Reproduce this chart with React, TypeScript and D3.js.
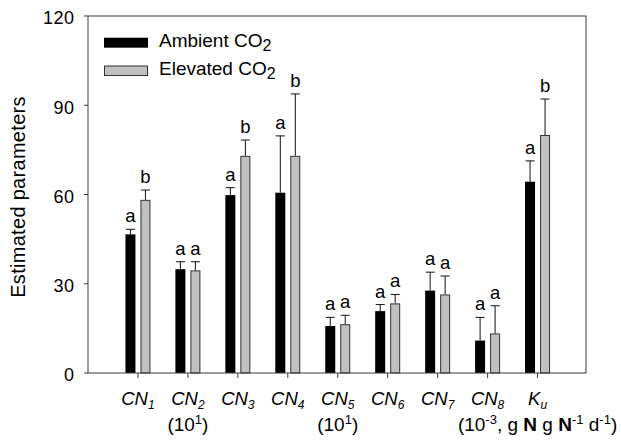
import React from "react";
import * as d3 from "d3";

// values
const categories = ["CN1", "CN2", "CN3", "CN4", "CN5", "CN6", "CN7", "CN8", "Ku"];
const ambient = [46.6, 34.9, 59.8, 60.6, 15.8, 20.8, 27.7, 10.9, 64.3];
const ambientErr = [1.7, 2.5, 2.5, 19.1, 2.9, 2.2, 6.2, 7.8, 7.0];
const elevated = [58.2, 34.5, 73.0, 73.0, 16.4, 23.4, 26.4, 13.3, 80.0];
const elevatedErr = [3.3, 2.9, 5.3, 20.8, 3.0, 3.0, 6.2, 9.3, 12.1];
const ambientLetters = ["a", "a", "a", "a", "a", "a", "a", "a", "a"];
const elevatedLetters = ["b", "a", "b", "b", "a", "a", "a", "a", "b"];
const yTicks = [0, 30, 60, 90, 120];

const FONT = "Arial, 'Liberation Sans', sans-serif";

type Seg = { t: string; sup?: boolean; bold?: boolean };
const tenScale: Seg[] = [{ t: "(10" }, { t: "1", sup: true }, { t: ")" }];
const kuUnits: Seg[] = [
  { t: "(10" }, { t: "-3", sup: true }, { t: ", g " }, { t: "N", bold: true },
  { t: " g " }, { t: "N", bold: true }, { t: "-1", sup: true }, { t: " d" },
  { t: "-1", sup: true }, { t: ")" },
];
const secondLines: (Seg[] | null)[] = [null, tenScale, null, null, tenScale, null, null, null, kuUnits];

export default function App() {
  const width = 621;
  const height = 444;
  const left = 88, right = 586, top = 16, bottom = 373;

  const x = d3.scaleLinear().domain([0, 9.97]).range([left, right]);
  const y = d3.scaleLinear().domain([0, 120]).range([bottom, top]);

  const barW = 10;
  const capW = 9;
  const frame = "#3a3a3a";

  const renderSegs = (segs: Seg[]) => {
    const out: React.ReactNode[] = [];
    let raised = false;
    segs.forEach((s, k) => {
      let dy = 0;
      if (s.sup && !raised) { dy = -7; raised = true; }
      else if (!s.sup && raised) { dy = 7; raised = false; }
      out.push(
        <tspan key={k} dy={dy} fontSize={s.sup ? 13 : 19} fontWeight={s.bold ? "bold" : "normal"}>
          {s.t}
        </tspan>
      );
    });
    return out;
  };

  return (
    <svg width={width} height={height} style={{ position: "absolute", left: 0, top: 0, background: "#fff" }} fontFamily={FONT}>
      {/* bars */}
      {categories.map((c, i) => {
        const cx = x(i + 1);
        const bx = cx - 12.5;
        const gx = cx + 2.5;
        const aTop = y(ambient[i] + ambientErr[i]);
        const eTop = y(elevated[i] + elevatedErr[i]);
        return (
          <g key={c}>
            <line x1={bx + barW / 2} x2={bx + barW / 2} y1={y(ambient[i])} y2={aTop} stroke="#111" strokeWidth={1} />
            <line x1={bx + barW / 2 - capW / 2} x2={bx + barW / 2 + capW / 2} y1={aTop} y2={aTop} stroke="#111" strokeWidth={1} />
            <line x1={gx + barW / 2} x2={gx + barW / 2} y1={y(elevated[i])} y2={eTop} stroke="#111" strokeWidth={1} />
            <line x1={gx + barW / 2 - capW / 2} x2={gx + barW / 2 + capW / 2} y1={eTop} y2={eTop} stroke="#111" strokeWidth={1} />
            <rect x={bx} y={y(ambient[i])} width={barW} height={bottom - y(ambient[i])} fill="#000" />
            <rect x={gx + 0.5} y={y(elevated[i]) + 0.5} width={barW - 1} height={bottom - y(elevated[i]) - 0.5} fill="#c0c0c0" stroke="#333" strokeWidth={1} />
            <text x={bx + barW / 2} y={aTop - 7} textAnchor="middle" fontSize={18.5}>{ambientLetters[i]}</text>
            <text x={gx + barW / 2} y={eTop - 7} textAnchor="middle" fontSize={18.5}>{elevatedLetters[i]}</text>
          </g>
        );
      })}

      {/* frame */}
      <rect x={left} y={top} width={right - left} height={bottom - top} fill="none" stroke={frame} strokeWidth={1} />

      {/* y axis */}
      {yTicks.map((t) => (
        <g key={t}>
          <line x1={left - 4} x2={left} y1={y(t)} y2={y(t)} stroke={frame} />
          <text x={left - 13.5} y={y(t)} dy="0.46em" textAnchor="end" fontSize={18} letterSpacing={0.5}>{t}</text>
        </g>
      ))}
      <text transform={`translate(25, 197) rotate(-90)`} textAnchor="middle" fontSize={20} letterSpacing={0.3}>
        Estimated parameters
      </text>

      {/* x axis */}
      {categories.map((c, i) => {
        const cx = x(i + 1);
        const main = c.startsWith("CN") ? "CN" : "K";
        const sub = c.startsWith("CN") ? c.slice(2) : "u";
        const second = secondLines[i];
        return (
          <g key={c}>
            <line x1={cx} x2={cx} y1={bottom} y2={bottom + 5} stroke={frame} />
            <text x={cx} y={405} textAnchor="middle" fontStyle="italic" fontSize={18.5}>
              {main}
              <tspan fontSize={12} dy={4}>{sub}</tspan>
            </text>
            {second && (
              <text x={cx} y={431} textAnchor="middle" fontSize={19}>
                {renderSegs(second)}
              </text>
            )}
          </g>
        );
      })}

      {/* legend */}
      <rect x={104} y={37.7} width={44} height={10} fill="#000" />
      <text x={159} y={47} fontSize={19}>
        Ambient CO<tspan fontSize={16} dy={4}>2</tspan>
      </text>
      <rect x={104.5} y={66} width={43} height={9.5} fill="#c0c0c0" stroke="#333" />
      <text x={159} y={75} fontSize={19}>
        Elevated CO<tspan fontSize={16} dy={4}>2</tspan>
      </text>
    </svg>
  );
}
